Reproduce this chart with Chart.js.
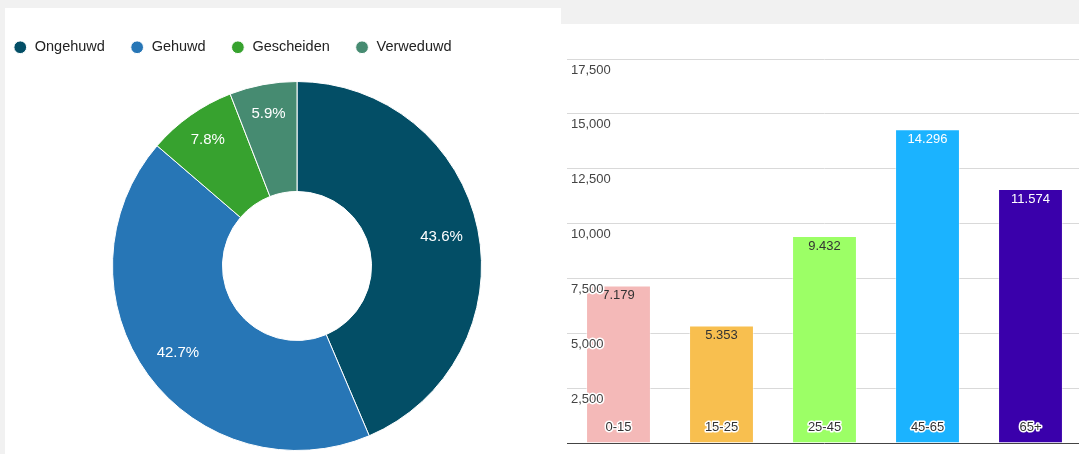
<!DOCTYPE html>
<html>
<head>
<meta charset="utf-8">
<script src="https://cdn.jsdelivr.net/npm/chart.js@4.4.1/dist/chart.umd.min.js"></script>
<style>
  body { margin: 0; width: 1079px; height: 454px; overflow: hidden; background: #f1f1f1; position: relative; }
  .panel { position: absolute; background: #fff; }
  #leftPanel { left: 5px; top: 8px; width: 556px; height: 446px; }
  #rightPanel { left: 561px; top: 24px; width: 518px; height: 430px; }
  canvas { position: absolute; }
  #pieChart { left: -12px; top: 0; }
  #barChart { left: 561px; top: 24px; }
</style>
</head>
<body>
<div class="panel" id="leftPanel"></div>
<canvas id="pieChart" width="618" height="480"></canvas>
<div class="panel" id="rightPanel"></div>
<canvas id="barChart" width="521" height="435"></canvas>
<script>
// burgerlijke staat (percentages)
const statusLabels = ["Ongehuwd", "Gehuwd", "Gescheiden", "Verweduwd"];
const statusShares = [43.6, 42.7, 7.8, 5.9];

// leeftijdsgroepen
const ageGroups = ["0-15", "15-25", "25-45", "45-65", "65+"];
const ageCounts = [7179, 5353, 9432, 14296, 11574];
const countTicks = [0, 2500, 5000, 7500, 10000, 12500, 15000, 17500];

const FONT = 'Arial, "Liberation Sans", sans-serif';
const statusColors = ["#034e66", "#2776b6", "#37a22f", "#468b71"];
const barColors = ["#f4b9b8", "#f8bf4f", "#9cff66", "#1bb3ff", "#3a00ab"];
const valueTextColors = ["#333", "#333", "#333", "#fff", "#fff"];

function groupDigits(v, sep) {
    return String(v).replace(/\B(?=(\d{3})+(?!\d))/g, sep);
}

const sliceLabels = {
    id: "sliceLabels",
    afterDatasetsDraw(chart) {
        const ctx = chart.ctx;
        const meta = chart.getDatasetMeta(0);
        ctx.save();
        ctx.font = "15px " + FONT;
        ctx.fillStyle = "#fff";
        ctx.textAlign = "center";
        ctx.textBaseline = "middle";
        meta.data.forEach((arc, i) => {
            const p = arc.getProps(["x", "y", "startAngle", "endAngle", "innerRadius", "outerRadius"], true);
            const mid = (p.startAngle + p.endAngle) / 2;
            // small slices sit a bit further out
            const r = (p.innerRadius + p.outerRadius) / 2 + (statusShares[i] < 10 ? 25 : 18);
            ctx.fillText(statusShares[i].toFixed(1) + "%", p.x + Math.cos(mid) * r, p.y + Math.sin(mid) * r);
        });
        ctx.restore();
    }
};

const barValueLabels = {
    id: "barValueLabels",
    beforeDraw(chart) {
        // round joins so the white halo round tick labels has no spikes
        chart.ctx.lineJoin = "round";
    },
    afterDatasetsDraw(chart) {
        const ctx = chart.ctx;
        const meta = chart.getDatasetMeta(0);
        ctx.save();
        ctx.font = "13px " + FONT;
        ctx.textAlign = "center";
        ctx.textBaseline = "middle";
        meta.data.forEach((bar, i) => {
            ctx.fillStyle = valueTextColors[i];
            ctx.fillText(groupDigits(ageCounts[i], "."), bar.x, bar.y + 10);
        });
        ctx.restore();
    }
};

new Chart(document.getElementById("pieChart"), {
    type: "doughnut",
    data: {
        labels: statusLabels,
        datasets: [{
            data: statusShares,
            backgroundColor: statusColors,
            borderColor: "#fff",
            borderWidth: 1,
            hoverOffset: 0
        }]
    },
    options: {
        responsive: false,
        animation: false,
        events: [],
        radius: 184.5,
        cutout: "40.4%",
        layout: { padding: { top: 15, bottom: 12.5, left: 0, right: 0 } },
        plugins: {
            legend: {
                position: "top",
                align: "start",
                labels: {
                    usePointStyle: true,
                    pointStyle: "circle",
                    boxWidth: 14.5,
                    boxHeight: 9,
                    padding: 25,
                    color: "#222",
                    font: { family: FONT, size: 14.5 }
                }
            },
            tooltip: { enabled: false }
        }
    },
    plugins: [sliceLabels]
});

new Chart(document.getElementById("barChart"), {
    type: "bar",
    data: {
        labels: ageGroups,
        datasets: [{
            data: ageCounts,
            backgroundColor: barColors,
            borderColor: "rgba(255,255,255,0.45)",
            borderWidth: 1,
            categoryPercentage: 0.63,
            barPercentage: 1
        }]
    },
    options: {
        responsive: false,
        animation: false,
        events: [],
        layout: { padding: { top: 35, left: 6, right: 0, bottom: 0 } },
        plugins: { legend: { display: false }, tooltip: { enabled: false } },
        scales: {
            x: {
                grid: { display: false, drawTicks: false },
                border: { display: false },
                ticks: {
                    mirror: true,
                    padding: 8,
                    z: 1,
                    color: "#333",
                    textStrokeColor: "#fff",
                    textStrokeWidth: 3,
                    font: { family: FONT, size: 13 }
                }
            },
            y: {
                min: 0,
                max: 17500,
                afterBuildTicks: scale => { scale.ticks = countTicks.map(v => ({ value: v })); },
                afterFit: scale => { scale.width = 0; },
                grid: {
                    drawTicks: false,
                    color: c => (c.tick && c.tick.value === 0 ? "#444" : "#d9d9d9")
                },
                border: { display: false },
                ticks: {
                    mirror: true,
                    padding: 4,
                    labelOffset: 11,
                    z: 1,
                    color: "#444",
                    textStrokeColor: "#fff",
                    textStrokeWidth: 3,
                    font: { family: FONT, size: 13 },
                    callback: v => (v === 0 ? "" : groupDigits(v, ","))
                }
            }
        }
    },
    plugins: [barValueLabels]
});
</script>
</body>
</html>
